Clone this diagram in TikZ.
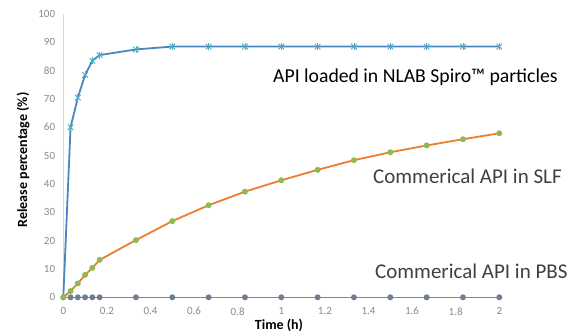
\documentclass[tikz,border=0pt]{standalone}
\usepackage{fontspec}
\setmainfont{Carlito}
\definecolor{spiroline}{HTML}{4A86C0}
\definecolor{spiromark}{HTML}{4BACC6}
\definecolor{slfline}{HTML}{ED7D31}
\definecolor{slfmark}{HTML}{8FBA4F}
\definecolor{pbsline}{HTML}{5B8FC9}
\definecolor{pbsmark}{HTML}{6E7F94}
\definecolor{ticktext}{HTML}{8A8A8A}
\definecolor{axisgray}{HTML}{D9D9D9}
\definecolor{legendtext}{HTML}{404040}
\tikzset{
  axisline/.style={draw=axisgray, line width=1pt},
  ticklabel/.style={font=\fontsize{11}{13}\selectfont, text=ticktext, inner sep=0pt},
  axistitle/.style={font=\fontsize{14}{16}\selectfont\bfseries, text=black, inner sep=0pt},
  seriesname/.style={font=\fontsize{21}{24}\selectfont, text=legendtext, inner sep=0pt, anchor=base west},
  starmark/.style={draw=spiromark, line width=0.9pt},
}
\begin{document}
\begin{tikzpicture}[x=1pt,y=1pt]
\useasboundingbox (0,0) rectangle (582,-333);
\fill[white] (0,0) rectangle (582,-333);

% axis titles
\node[axistitle, rotate=90] (ytitle) at (23,-160) {Release percentage (\%)};
\node[axistitle, anchor=base] (xtitle) at (279,-329) {Time (h)};

% series names
\node[seriesname, text=black, font=\fontsize{19.7}{23}\selectfont] (namespiro) at (273,-82) {API loaded in NLAB Spiro™ particles};
\node[seriesname] (nameslf) at (373,-183) {Commerical API in SLF};
\node[seriesname] (namepbs) at (375,-278) {Commerical API in PBS};

\begin{scope}[shift={(63.3,-297.3)}, x=218pt, y=2.833pt]
  % axes
  \draw[axisline] (0,0) -- (0,100);
  \draw[axisline] (0,0) -- (2,0);
  \foreach \v in {0,10,...,100}
    \node[ticklabel, anchor=east] (ytick\v) at ([xshift=-8pt]0,\v) {\v};
  \foreach \v/\n in {0/0,0.2/1,0.4/2,0.6/3,0.8/4,1/5,1.2/6,1.4/7,1.6/8,1.8/9,2/10}
    \node[ticklabel] (xtick\n) at ([yshift=-14pt]\v,0) {\v};

  % NLAB Spiro particles
  \draw[spiroline, line width=1.8pt, line join=round]
    plot coordinates {(0,0) (0.0333,60) (0.0667,70.5) (0.1,78.5) (0.1333,83.5) (0.1667,85.5)
      (0.3333,87.5) (0.5,88.5) (0.6667,88.5) (0.8333,88.5) (1,88.5) (1.1667,88.5)
      (1.3333,88.5) (1.5,88.5) (1.6667,88.5) (1.8333,88.5) (2,88.5)};
  \foreach \t/\v in {0.0333/60,0.0667/70.5,0.1/78.5,0.1333/83.5,0.1667/85.5,0.3333/87.5,
      0.5/88.5,0.6667/88.5,0.8333/88.5,1/88.5,1.1667/88.5,1.3333/88.5,1.5/88.5,
      1.6667/88.5,1.8333/88.5,2/88.5}{
    \draw[starmark] ([shift={(-2.8pt,-2.8pt)}]\t,\v) -- ++(5.6pt,5.6pt);
    \draw[starmark] ([shift={(-2.8pt,2.8pt)}]\t,\v) -- ++(5.6pt,-5.6pt);
    \draw[starmark] ([shift={(0pt,-3.5pt)}]\t,\v) -- ++(0pt,7pt);
  }

  % PBS
  \draw[pbsline, line width=1.5pt]
    plot coordinates {(0,0) (2,0)};
  \foreach \t in {0,0.0333,0.0667,0.1,0.1333,0.1667,0.3333,0.5,0.6667,0.8333,1,
      1.1667,1.3333,1.5,1.6667,1.8333,2}
    \fill[pbsmark] (\t,0) circle[radius=3pt];

  % SLF
  \draw[slfline, line width=1.8pt, line join=round]
    plot coordinates {(0,0) (0.0333,2.2) (0.0667,4.9) (0.1,7.9) (0.1333,10.4) (0.1667,13.2)
      (0.3333,20.2) (0.5,26.9) (0.6667,32.5) (0.8333,37.3) (1,41.3) (1.1667,45)
      (1.3333,48.4) (1.5,51.2) (1.6667,53.6) (1.8333,55.8) (2,57.9)};
  \foreach \t/\v in {0/0,0.0333/2.2,0.0667/4.9,0.1/7.9,0.1333/10.4,0.1667/13.2,0.3333/20.2,
      0.5/26.9,0.6667/32.5,0.8333/37.3,1/41.3,1.1667/45,1.3333/48.4,1.5/51.2,
      1.6667/53.6,1.8333/55.8,2/57.9}
    \fill[slfmark] (\t,\v) circle[radius=3pt];
\end{scope}
\end{tikzpicture}
\end{document}
